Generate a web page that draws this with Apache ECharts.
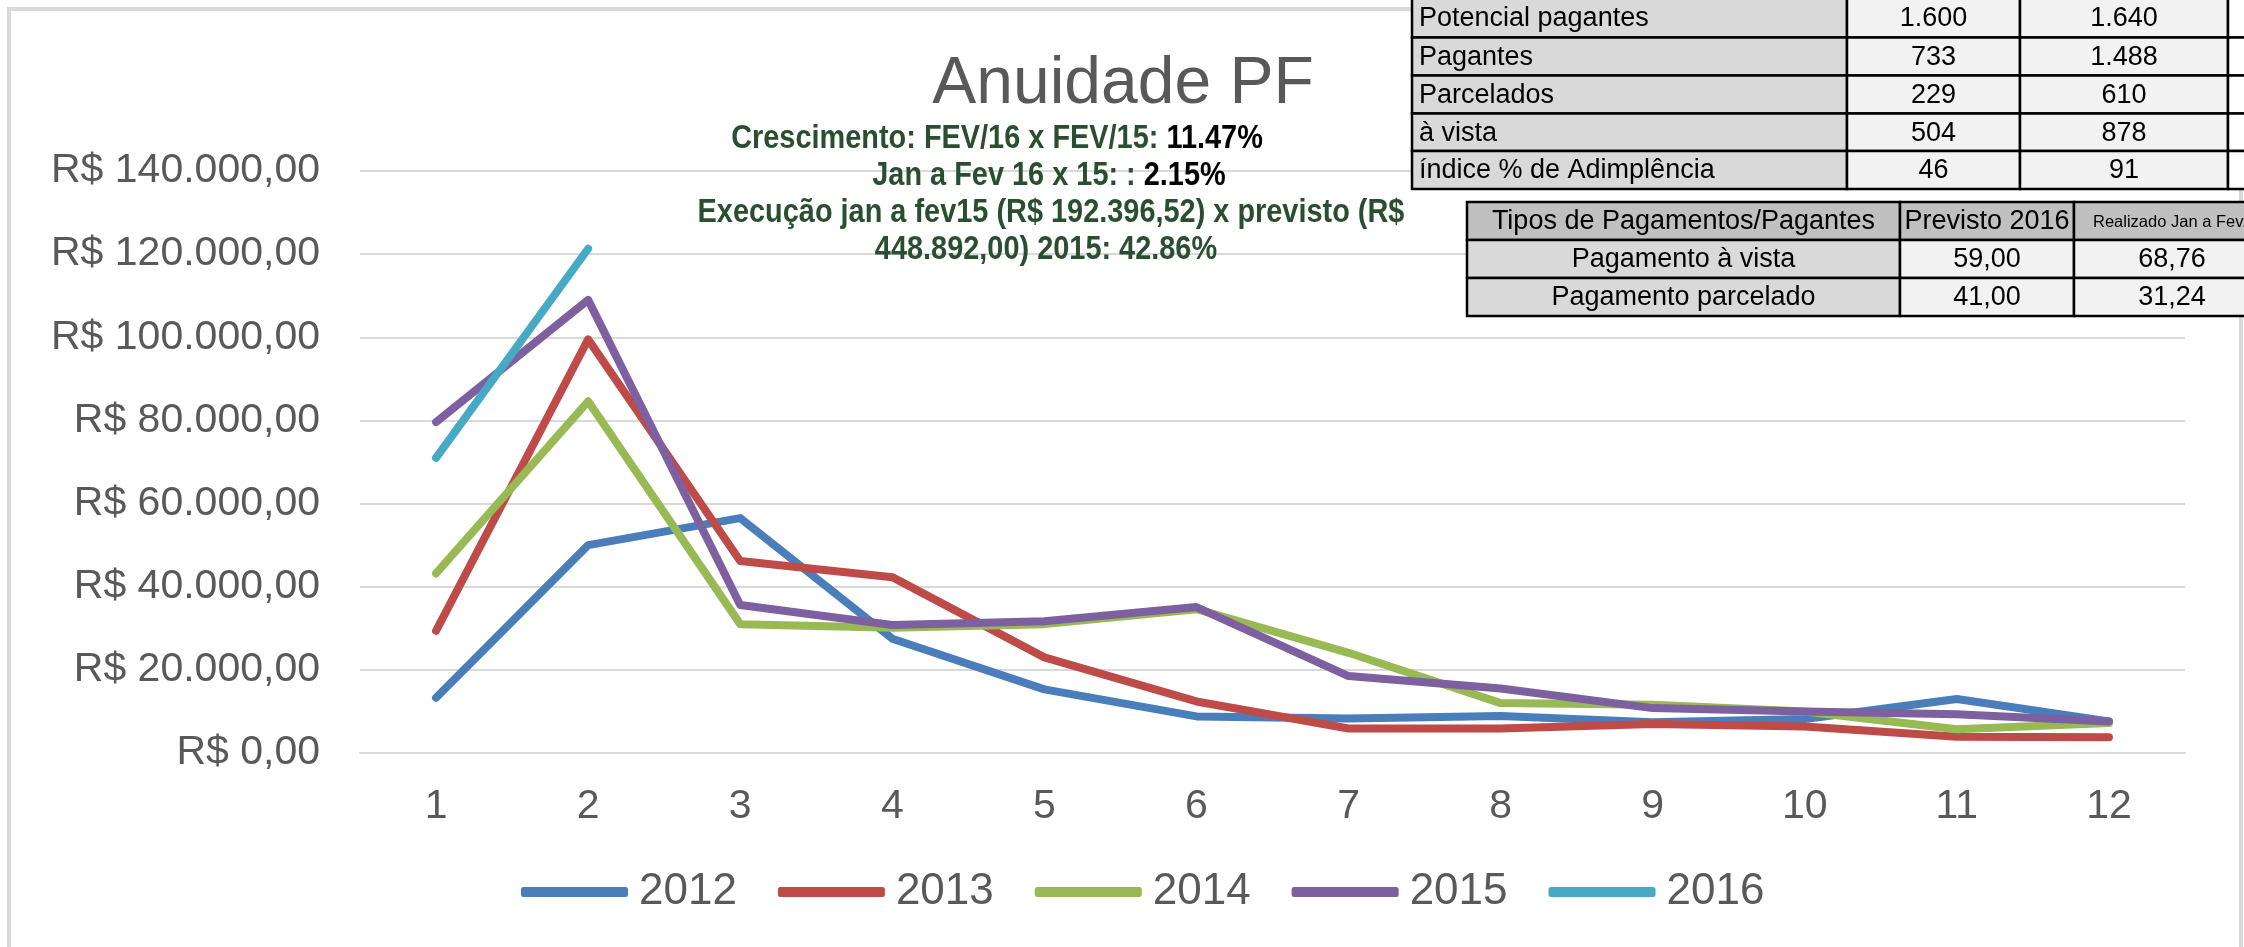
<!DOCTYPE html>
<html>
<head>
<meta charset="utf-8">
<script src="https://cdn.jsdelivr.net/npm/echarts@6/dist/echarts.min.js"></script>
<style>
html,body{margin:0;padding:0;background:#fff;}
#chart{width:2244px;height:947px;}
</style>
</head>
<body>
<div id="chart"></div>
<script>
// ---- data ----
const months = ['1','2','3','4','5','6','7','8','9','10','11','12'];
const seriesNames = ['2012','2013','2014','2015','2016'];
const v2012 = [13300, 50000, 56500, 27500, 15300, 8800, 8300, 8900, 7400, 8200, 13000, 7600];
const v2013 = [29400, 99500, 46200, 42300, 23000, 12400, 5900, 5900, 7000, 6400, 3900, 3800];
const v2014 = [43200, 84600, 31000, 30100, 31000, 34600, 24100, 12000, 11600, 10000, 5700, 7200];
const v2015 = [79600, 109000, 35600, 30800, 31700, 35100, 18500, 15500, 10800, 10000, 9300, 7600];
const v2016 = [71000, 121300];
const yTicks = [0, 20000, 40000, 60000, 80000, 100000, 120000, 140000];

const chartTitle = 'Anuidade PF';
const noteLines = [
  ['Crescimento: FEV/16 x FEV/15: ', '11.47%'],
  ['Jan a Fev 16 x 15: : ', '2.15%'],
  ['Execução jan a fev15 (R$ 192.396,52) x previsto (R$', ''],
  ['448.892,00) 2015: 42.86%', '']
];

const t1Labels = ['Potencial pagantes', 'Pagantes', 'Parcelados', 'à vista', 'índice % de Adimplência'];
const t1Col2 = ['1.600', '733', '229', '504', '46'];
const t1Col3 = ['1.640', '1.488', '610', '878', '91'];

const t2Header = ['Tipos de Pagamentos/Pagantes', 'Previsto 2016', 'Realizado Jan a Fev/'];
const t2Labels = ['Pagamento à vista', 'Pagamento parcelado'];
const t2Previsto = ['59,00', '41,00'];
const t2Realizado = ['68,76', '31,24'];

// ---- style ----
const colors = ['#4a7ebb', '#be4b48', '#98b954', '#7d60a0', '#46aac5'];
const FONT = 'Liberation Sans';
const GREEN = '#2a4f30';

function brl(v) {
  const s = Math.round(v).toString().replace(/\B(?=(\d{3})+(?!\d))/g, '.');
  return 'R$ ' + s + ',00';
}

const chart = echarts.init(document.getElementById('chart'), null, {renderer: 'canvas'});

const graphics = [];
// chart frame
graphics.push({type: 'rect', silent: true, z: -10,
  shape: {x: 9, y: 9, width: 2232, height: 980},
  style: {fill: 'none', stroke: '#d9d9d9', lineWidth: 4}});

// annotation lines (condensed bold look via horizontal scaling)
const noteCenters = [997, 1049, 1051, 1046];
const noteY = [139, 176, 213, 250];
noteLines.forEach((ln, i) => {
  graphics.push({type: 'text', z: 50, x: noteCenters[i], y: noteY[i], scaleX: 0.85, scaleY: 1,
    style: {
      text: '{g|' + ln[0] + '}' + (ln[1] ? '{k|' + ln[1] + '}' : ''),
      align: 'center', verticalAlign: 'middle',
      rich: {
        g: {fill: GREEN, fontFamily: FONT, fontWeight: 'bold', fontSize: 34},
        k: {fill: '#000000', fontFamily: FONT, fontWeight: 'bold', fontSize: 34}
      }
    }});
});

function cell(x, y, w, h, fill, text, align, fontSize, pad) {
  graphics.push({type: 'rect', z: 100,
    shape: {x: x, y: y, width: w, height: h},
    style: {fill: fill, stroke: '#000', lineWidth: 2.5}});
  if (text !== undefined && text !== null) {
    graphics.push({type: 'text', z: 101,
      x: align === 'left' ? x + (pad || 7) : x + w / 2, y: y + h / 2 + 1,
      style: {text: text, fill: '#000', fontFamily: FONT, fontSize: fontSize || 27,
        align: align, verticalAlign: 'middle'}});
  }
}

// table 1
const t1x = [1412, 1847, 2020, 2228, 2262];
const t1y = [-1.5, 37.5, 75.5, 113.5, 151, 189];
t1Labels.forEach((lab, r) => {
  const y = t1y[r], h = t1y[r + 1] - t1y[r];
  cell(t1x[0], y, t1x[1] - t1x[0], h, '#d9d9d9', lab, 'left', 27);
  cell(t1x[1], y, t1x[2] - t1x[1], h, '#f2f2f2', t1Col2[r], 'center', 27);
  cell(t1x[2], y, t1x[3] - t1x[2], h, '#f2f2f2', t1Col3[r], 'center', 27);
  cell(t1x[3], y, t1x[4] - t1x[3], h, '#ffffff', null);
});

// table 2
const t2x = [1467, 1900, 2074, 2270];
const t2y = [202, 240, 278, 316];
cell(t2x[0], t2y[0], t2x[1] - t2x[0], t2y[1] - t2y[0], '#c0c0c0', t2Header[0], 'center', 27);
cell(t2x[1], t2y[0], t2x[2] - t2x[1], t2y[1] - t2y[0], '#c0c0c0', t2Header[1], 'center', 27);
cell(t2x[2], t2y[0], t2x[3] - t2x[2], t2y[1] - t2y[0], '#c0c0c0', null);
graphics.push({type: 'text', z: 101, x: 2093, y: (t2y[0] + t2y[1]) / 2 + 1,
  style: {text: t2Header[2], fill: '#000', fontFamily: FONT, fontSize: 16.5, align: 'left', verticalAlign: 'middle'}});
t2Labels.forEach((lab, r) => {
  const y = t2y[r + 1], h = t2y[r + 2] - t2y[r + 1];
  cell(t2x[0], y, t2x[1] - t2x[0], h, '#d9d9d9', lab, 'center', 27);
  cell(t2x[1], y, t2x[2] - t2x[1], h, '#f2f2f2', t2Previsto[r], 'center', 27);
  cell(t2x[2], y, t2x[3] - t2x[2], h, '#f2f2f2', t2Realizado[r], 'center', 27);
});

const allValues = [v2012, v2013, v2014, v2015, v2016];

const option = {
  backgroundColor: '#ffffff',
  animation: false,
  color: colors,
  title: {
    text: chartTitle, left: 1118, top: 47, textAlign: 'center',
    textStyle: {fontFamily: FONT, fontSize: 66, fontWeight: 'normal', color: '#595959'}
  },
  legend: {
    data: seriesNames,
    left: 516, top: 865,
    icon: 'roundRect', itemWidth: 107, itemHeight: 10, itemGap: 41,
    textStyle: {fontFamily: FONT, fontSize: 44, color: '#595959', padding: [0, 0, 0, 6]}
  },
  grid: {left: 360, right: 59, top: 171, bottom: 194, containLabel: false},
  xAxis: {
    type: 'category', data: months, boundaryGap: true,
    axisLine: {show: true, lineStyle: {color: '#d9d9d9', width: 2}},
    axisTick: {show: false},
    axisLabel: {fontFamily: FONT, fontSize: 41, color: '#595959', margin: 33}
  },
  yAxis: {
    type: 'value', min: yTicks[0], max: yTicks[yTicks.length - 1], interval: yTicks[1] - yTicks[0],
    axisLine: {show: false}, axisTick: {show: false},
    splitLine: {lineStyle: {color: '#d9d9d9', width: 2}},
    axisLabel: {fontFamily: FONT, fontSize: 41, color: '#595959', margin: 40, formatter: brl}
  },
  graphic: graphics,
  series: seriesNames.map((n, i) => ({
    name: n, type: 'line', data: allValues[i],
    symbol: 'none', smooth: false,
    lineStyle: {width: 8, color: colors[i], cap: 'round', join: 'round'},
    itemStyle: {color: colors[i]},
    z: 2 + i
  }))
};
chart.setOption(option);
</script>
</body>
</html>
